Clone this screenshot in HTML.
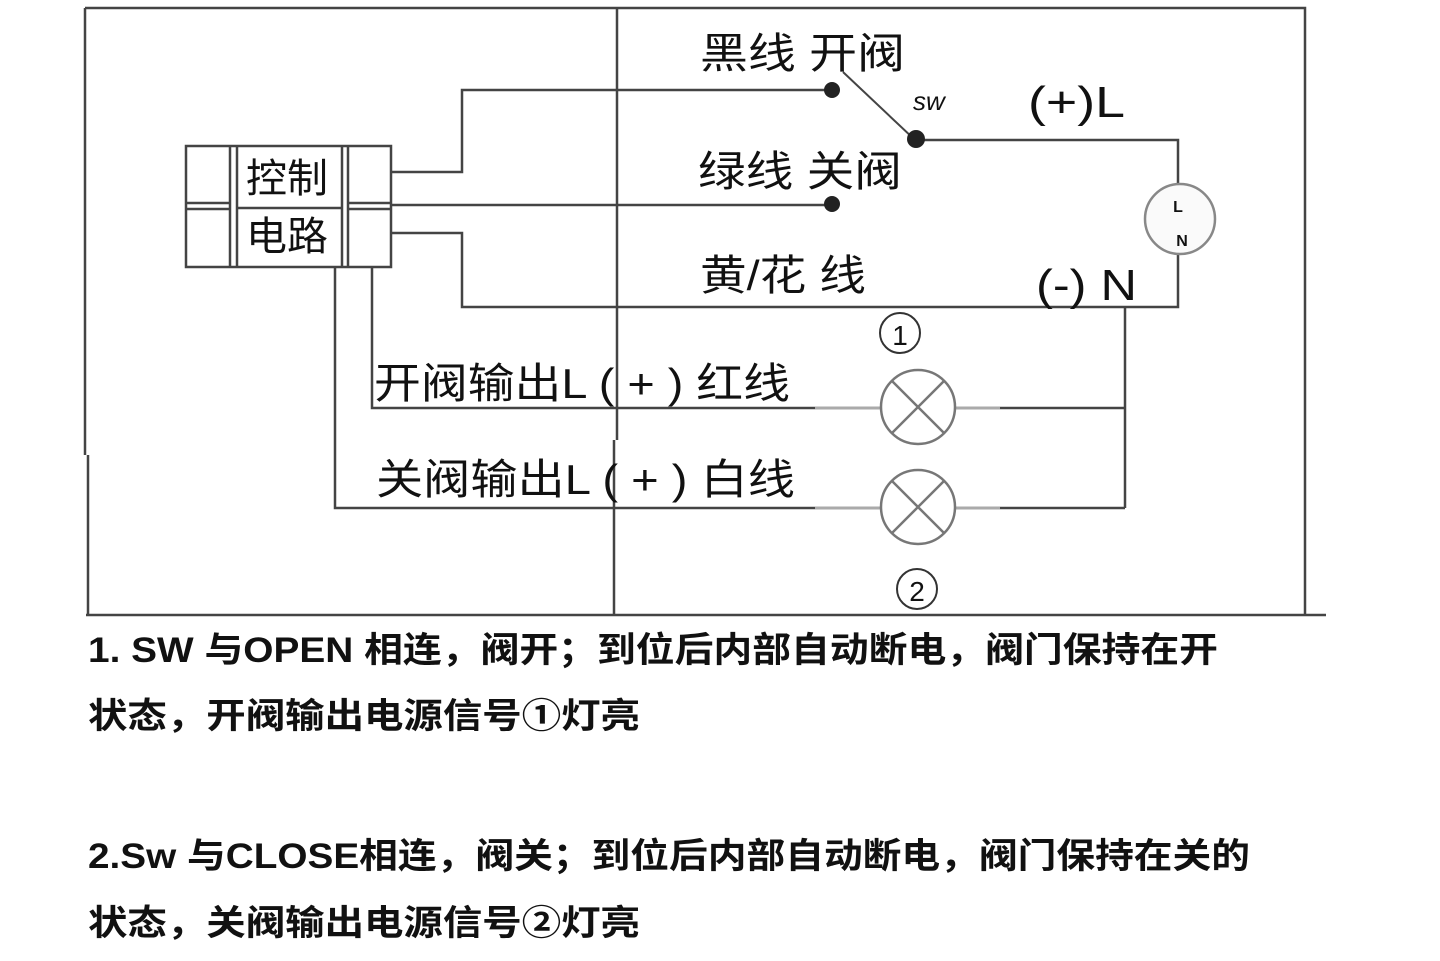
<!DOCTYPE html>
<html><head><meta charset="utf-8"><style>
html,body{margin:0;padding:0;background:#fff;}
svg{display:block;}
text{font-family:"Liberation Sans","Noto Sans CJK SC",sans-serif;fill:#111;}
</style></head><body>
<svg width="1440" height="961" viewBox="0 0 1440 961" xmlns="http://www.w3.org/2000/svg">
<g stroke="#444" stroke-width="2.5" fill="none">
<path d="M85 8 H1305 V455"/>
<path d="M85 8 V455"/>
<path d="M88 455 V615"/>
<path d="M1305 455 V615"/>
<path d="M86 615 H1326"/>
<path d="M617 8 V440"/>
<path d="M614 440 V615"/>
<rect x="186" y="146" width="205" height="121"/>
<path d="M230 146 V267 M237 146 V267 M342 146 V267 M348 146 V267"/>
<path d="M186 203 H230 M186 209 H230 M348 203 H391 M348 209 H391 M237 208 H342"/>
<path d="M391 172 H462 V90 H832"/>
<path d="M391 205 H832"/>
<path d="M391 233 H462 V307 H1178 V254"/>
<path d="M1178 184 V140 H915"/>
<path d="M915 140 L843 72" stroke-width="2"/>
<path d="M372 267 V408 H815"/>
<path d="M335 267 V508 H815"/>
<path d="M1000 408 H1125 M1000 508 H1125 M1125 307 V508"/>
</g>
<g stroke="#aaa" stroke-width="3" fill="none">
<path d="M815 408 H880 M955 408 H1000 M815 508 H880 M955 508 H1000"/>
</g>
<g fill="#222">
<circle cx="832" cy="90" r="8"/>
<circle cx="832" cy="204" r="8"/>
<circle cx="916" cy="139" r="9"/>
</g>
<circle cx="1180" cy="219" r="35" fill="#fafafa" stroke="#888" stroke-width="2.5"/>
<text x="1178" y="212" font-size="16" font-weight="bold" text-anchor="middle">L</text>
<text x="1182" y="246" font-size="16" font-weight="bold" text-anchor="middle">N</text>
<g stroke="#777" stroke-width="2.5" fill="#fff">
<circle cx="918" cy="407" r="37"/>
<circle cx="918" cy="507" r="37"/>
<path d="M892 381 L944 433 M944 381 L892 433 M892 481 L944 533 M944 481 L892 533"/>
<circle cx="900" cy="333" r="20" stroke="#333" stroke-width="2"/>
<circle cx="917" cy="589" r="20" stroke="#333" stroke-width="2"/>
</g>
<text x="900" y="345" font-size="28" text-anchor="middle">1</text>
<text x="917" y="601" font-size="28" text-anchor="middle">2</text>
<g lengthAdjust="spacingAndGlyphs">
<text x="246" y="192" font-size="40" textLength="82" lengthAdjust="spacingAndGlyphs">控制</text>
<text x="246" y="250" font-size="40" textLength="82" lengthAdjust="spacingAndGlyphs">电路</text>
<text x="700" y="68" font-size="42" textLength="205" lengthAdjust="spacingAndGlyphs">黑线 开阀</text>
<text x="698" y="186" font-size="42" textLength="204" lengthAdjust="spacingAndGlyphs">绿线 关阀</text>
<text x="700" y="290" font-size="42" textLength="166" lengthAdjust="spacingAndGlyphs">黄/花 线</text>
<text x="913" y="110" font-size="26" font-style="italic">sw</text>
<text x="1028" y="117" font-size="44" textLength="97" lengthAdjust="spacingAndGlyphs">(+)L</text>
<text x="1036" y="300" font-size="44" textLength="101" lengthAdjust="spacingAndGlyphs">(-) N</text>
<text x="374" y="398" font-size="42" textLength="416" lengthAdjust="spacingAndGlyphs">开阀输出L ( + ) 红线</text>
<text x="376" y="494" font-size="42" textLength="419" lengthAdjust="spacingAndGlyphs">关阀输出L ( + ) 白线</text>
</g>
<g font-size="35" font-weight="bold" style="fill:#222">
<text x="88" y="662" textLength="1130" lengthAdjust="spacingAndGlyphs">1. SW 与OPEN 相连，阀开；到位后内部自动断电，阀门保持在开</text>
<text x="88" y="728" textLength="552" lengthAdjust="spacingAndGlyphs">状态，开阀输出电源信号①灯亮</text>
<text x="88" y="868" textLength="1162" lengthAdjust="spacingAndGlyphs">2.Sw 与CLOSE相连，阀关；到位后内部自动断电，阀门保持在关的</text>
<text x="88" y="935" textLength="552" lengthAdjust="spacingAndGlyphs">状态，关阀输出电源信号②灯亮</text>
</g>
</svg>
</body></html>
